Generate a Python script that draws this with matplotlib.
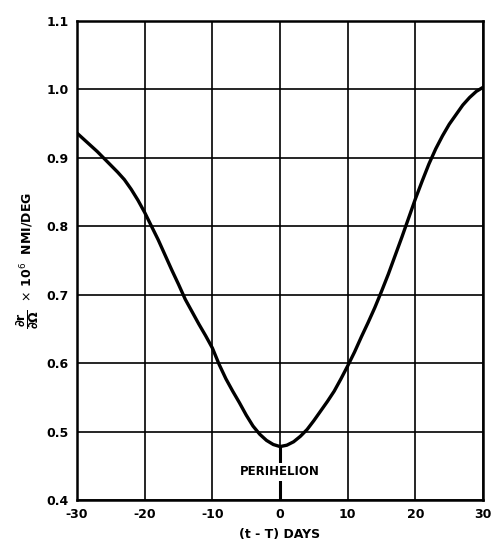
import numpy as np
import matplotlib.pyplot as plt

# values
days = list(range(-30, 31))
sens = [0.936, 0.927, 0.918, 0.909, 0.899, 0.889, 0.879, 0.868, 0.854, 0.838,
        0.820, 0.800, 0.780, 0.758, 0.736, 0.715, 0.693, 0.675, 0.657, 0.640,
        0.622, 0.598, 0.577, 0.559, 0.542, 0.524, 0.508, 0.496, 0.487, 0.481,
        0.478,
        0.480, 0.485, 0.493, 0.503, 0.516, 0.530, 0.544, 0.559, 0.577, 0.596,
        0.616, 0.638, 0.659, 0.681, 0.705, 0.730, 0.757, 0.784, 0.812, 0.840,
        0.866, 0.891, 0.913, 0.932, 0.949, 0.963, 0.977, 0.988, 0.997, 1.003]
xticks = [-30, -20, -10, 0, 10, 20, 30]
yticks = [0.4, 0.5, 0.6, 0.7, 0.8, 0.9, 1.0, 1.1]

fig = plt.figure(figsize=(4.97, 5.5), dpi=100)
ax = fig.add_axes([0.155, 0.091, 0.817, 0.871])

ax.plot(days, sens, color='black', lw=2.4, solid_capstyle='round',
        solid_joinstyle='round', zorder=3)

ax.set_xlim(-30, 30)
ax.set_ylim(0.4, 1.1)
ax.set_xticks(xticks)
ax.set_yticks(yticks)
ax.set_xticklabels([str(t) for t in xticks], fontsize=9, fontweight='bold')
ax.set_yticklabels([f"{v:.1f}" for v in yticks], fontsize=9, fontweight='bold')
ax.tick_params(length=0, pad=6)
ax.grid(True, color='black', lw=1.2)
for s in ax.spines.values():
    s.set_linewidth(1.8)

# perihelion marker
imin = int(np.argmin(sens))
ax.plot([days[imin], days[imin]], [0.4, sens[imin]], color='black', lw=2.2, zorder=2)
ax.text(days[imin], 0.441, "PERIHELION", ha='center', va='center', fontsize=8.5,
        fontweight='bold', bbox=dict(facecolor='white', edgecolor='none', pad=1.5), zorder=4)

ax.set_xlabel("(t - T) DAYS", fontsize=9, fontweight='bold', labelpad=5)
ax.set_ylabel(r"$\mathbf{\dfrac{\partial r}{\partial \Omega}}$  $\times$ 10$^6$  NMI/DEG",
              fontsize=9, fontweight='bold', labelpad=4)

fig.savefig("out.png", dpi=100)
